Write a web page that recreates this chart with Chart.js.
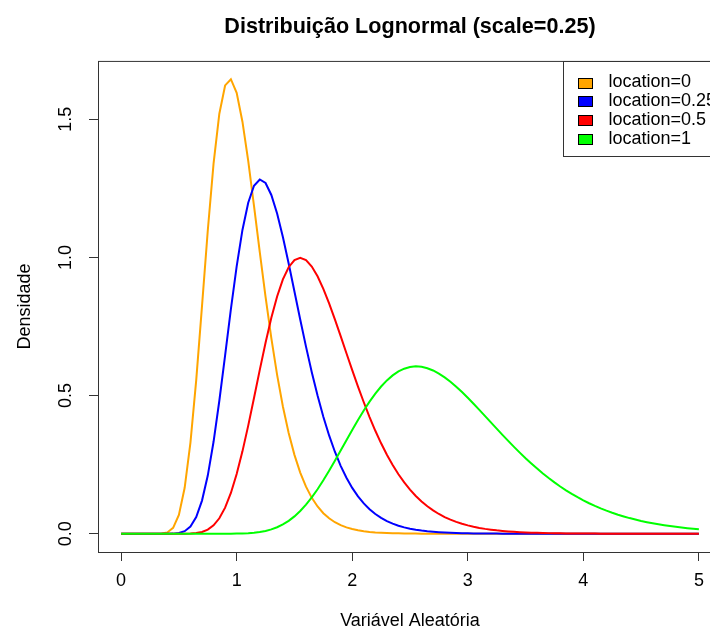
<!DOCTYPE html>
<html>
<head>
<meta charset="utf-8">
<title>Distribuição Lognormal</title>
<script src="https://cdn.jsdelivr.net/npm/chart.js@4/dist/chart.umd.min.js"></script>
<style>
    html, body { margin: 0; padding: 0; background: #fff; overflow: hidden; }
    #wrap { width: 710px; height: 627px; overflow: hidden; }
</style>
</head>
<body>
<div id="wrap"><canvas id="myChart" width="740" height="627"></canvas></div>
<script>
// densidades lognormais (sdlog = 0.25), avaliadas de 0 a 5 em passos de 0.05
const xValues = [
    0.00, 0.05, 0.10, 0.15, 0.20, 0.25, 0.30, 0.35, 0.40, 0.45,
    0.50, 0.55, 0.60, 0.65, 0.70, 0.75, 0.80, 0.85, 0.90, 0.95,
    1.00, 1.05, 1.10, 1.15, 1.20, 1.25, 1.30, 1.35, 1.40, 1.45,
    1.50, 1.55, 1.60, 1.65, 1.70, 1.75, 1.80, 1.85, 1.90, 1.95,
    2.00, 2.05, 2.10, 2.15, 2.20, 2.25, 2.30, 2.35, 2.40, 2.45,
    2.50, 2.55, 2.60, 2.65, 2.70, 2.75, 2.80, 2.85, 2.90, 2.95,
    3.00, 3.05, 3.10, 3.15, 3.20, 3.25, 3.30, 3.35, 3.40, 3.45,
    3.50, 3.55, 3.60, 3.65, 3.70, 3.75, 3.80, 3.85, 3.90, 3.95,
    4.00, 4.05, 4.10, 4.15, 4.20, 4.25, 4.30, 4.35, 4.40, 4.45,
    4.50, 4.55, 4.60, 4.65, 4.70, 4.75, 4.80, 4.85, 4.90, 4.95,
    5.00
];

const location0 = [
    0, 0, 0, 0, 0, 0, 0, 0.0007, 0.0048, 0.0216,
    0.0683, 0.1664, 0.3298, 0.5562, 0.8238, 1.0973, 1.3395, 1.5199, 1.6223, 1.6448,
    1.5958, 1.4911, 1.3490, 1.1868, 1.0193, 0.8573, 0.7076, 0.5751, 0.4607, 0.3646,
    0.2855, 0.2214, 0.1704, 0.1300, 0.0987, 0.0745, 0.0559, 0.0418, 0.0311, 0.0231,
    0.0171, 0.0126, 0.0093, 0.0068, 0.0050, 0.0037, 0.0027, 0.0020, 0.0014, 0.0011,
    0.0008, 0.0006, 0.0004, 0.0003, 0.0002, 0.0001, 0.0001, 0, 0, 0,
    0, 0, 0, 0, 0, 0, 0, 0, 0, 0,
    0, 0, 0, 0, 0, 0, 0, 0, 0, 0,
    0, 0, 0, 0, 0, 0, 0, 0, 0, 0,
    0, 0, 0, 0, 0, 0, 0, 0, 0, 0,
    0
];

const location025 = [
    0, 0, 0, 0, 0, 0, 0, 0, 0.0001, 0.0005,
    0.0026, 0.0092, 0.0259, 0.0602, 0.1200, 0.2106, 0.3328, 0.4813, 0.6455, 0.8125,
    0.9679, 1.0993, 1.1979, 1.2592, 1.2819, 1.2693, 1.2260, 1.1586, 1.0736, 0.9778,
    0.8767, 0.7752, 0.6772, 0.5847, 0.5000, 0.4236, 0.3558, 0.2968, 0.2458, 0.2025,
    0.1659, 0.1352, 0.1097, 0.0885, 0.0713, 0.0572, 0.0458, 0.0365, 0.0291, 0.0231,
    0.0183, 0.0145, 0.0114, 0.0090, 0.0071, 0.0056, 0.0044, 0.0035, 0.0027, 0.0021,
    0.0017, 0.0013, 0.0010, 0.0008, 0.0006, 0.0005, 0.0004, 0.0003, 0.0002, 0.0002,
    0.0001, 0.0001, 0, 0, 0, 0, 0, 0, 0, 0,
    0, 0, 0, 0, 0, 0, 0, 0, 0, 0,
    0, 0, 0, 0, 0, 0, 0, 0, 0, 0,
    0
];

const location05 = [
    0, 0, 0, 0, 0, 0, 0, 0, 0, 0,
    0, 0.0002, 0.0007, 0.0024, 0.0064, 0.0149, 0.0304, 0.0561, 0.0945, 0.1477,
    0.2160, 0.2982, 0.3914, 0.4915, 0.5931, 0.6913, 0.7814, 0.8586, 0.9204, 0.9645,
    0.9905, 0.9986, 0.9902, 0.9671, 0.9317, 0.8863, 0.8335, 0.7757, 0.7149, 0.6533,
    0.5921, 0.5326, 0.4758, 0.4223, 0.3727, 0.3273, 0.2859, 0.2486, 0.2152, 0.1857,
    0.1596, 0.1367, 0.1167, 0.0993, 0.0844, 0.0715, 0.0604, 0.0510, 0.0429, 0.0361,
    0.0303, 0.0254, 0.0212, 0.0177, 0.0148, 0.0123, 0.0103, 0.0085, 0.0071, 0.0059,
    0.0049, 0.0041, 0.0034, 0.0028, 0.0023, 0.0019, 0.0016, 0.0013, 0.0011, 0.0009,
    0.0007, 0.0006, 0.0005, 0.0004, 0.0004, 0.0003, 0.0003, 0.0002, 0.0002, 0.0002,
    0.0001, 0.0001, 0.0001, 0.0001, 0.0001, 0, 0, 0, 0, 0,
    0
];

const location1 = [
    0, 0, 0, 0, 0, 0, 0, 0, 0, 0,
    0, 0, 0, 0, 0, 0, 0, 0, 0.0001, 0.0002,
    0.0005, 0.0011, 0.0021, 0.0037, 0.0063, 0.0102, 0.0158, 0.0235, 0.0337, 0.0467,
    0.0629, 0.0825, 0.1054, 0.1317, 0.1611, 0.1933, 0.2277, 0.2638, 0.3011, 0.3385,
    0.3756, 0.4117, 0.4460, 0.4781, 0.5071, 0.5328, 0.5549, 0.5731, 0.5874, 0.5974,
    0.6035, 0.6057, 0.6041, 0.5991, 0.5908, 0.5797, 0.5659, 0.5500, 0.5322, 0.5127,
    0.4921, 0.4706, 0.4484, 0.4258, 0.4030, 0.3803, 0.3580, 0.3359, 0.3144, 0.2936,
    0.2734, 0.2542, 0.2358, 0.2182, 0.2016, 0.1859, 0.1711, 0.1572, 0.1443, 0.1322,
    0.1209, 0.1105, 0.1008, 0.0918, 0.0836, 0.0760, 0.0690, 0.0626, 0.0567, 0.0514,
    0.0464, 0.0420, 0.0379, 0.0342, 0.0308, 0.0278, 0.0250, 0.0225, 0.0203, 0.0182,
    0.0164
];

const seriesLabels = ['location=0', 'location=0.25', 'location=0.5', 'location=1'];
const seriesColors = ['#FFA500', '#0000FF', '#FF0000', '#00FF00'];
const seriesValues = [location0, location025, location05, location1];

const xTicks = [0, 1, 2, 3, 4, 5];
const yTicks = [0, 0.5, 1, 1.5];

const FONT = "'Liberation Sans', Arial, sans-serif";
const AXIS_COLOR = '#333';

// moldura do painel (box) e legenda no canto superior direito
const boxPlugin = {
    id: 'plotBox',
    afterDraw(chart) {
        const { ctx, chartArea } = chart;
        ctx.save();
        ctx.strokeStyle = AXIS_COLOR;
        ctx.lineWidth = 1;
        ctx.strokeRect(chartArea.left + 0.5, chartArea.top + 0.5,
            chartArea.right - chartArea.left, chartArea.bottom - chartArea.top);
        ctx.restore();
    }
};

const legendPlugin = {
    id: 'rLegend',
    afterDraw(chart) {
        const { ctx, chartArea } = chart;
        const left = Math.round(chartArea.right - 159) + 0.5;
        const top = Math.round(chartArea.top) + 0.5;
        const rowH = 18.7;

        ctx.save();
        ctx.fillStyle = '#fff';
        ctx.fillRect(left, top, 160, 95);
        ctx.strokeStyle = AXIS_COLOR;
        ctx.lineWidth = 1;
        ctx.strokeRect(left, top, 160, 95);

        ctx.font = '18px ' + FONT;
        ctx.textBaseline = 'middle';
        ctx.textAlign = 'left';
        chart.data.datasets.forEach((ds, i) => {
            const y = top + 21 + i * rowH;
            const sy = Math.round(y - 5) + 0.5;
            ctx.fillStyle = ds.borderColor;
            ctx.fillRect(left + 15, sy, 14, 10);
            ctx.strokeStyle = '#000';
            ctx.strokeRect(left + 15, sy, 14, 10);
            ctx.fillStyle = '#000';
            ctx.fillText(ds.label, left + 45, y);
        });
        ctx.restore();
    }
};

const datasets = seriesLabels.map((label, i) => ({
    label: label,
    data: xValues.map((x, j) => ({ x: x, y: seriesValues[i][j] })),
    borderColor: seriesColors[i],
    backgroundColor: seriesColors[i],
    borderWidth: 2,
    pointRadius: 0,
    tension: 0,
    fill: false,
    // as curvas desenhadas por último ficam por cima
    order: seriesLabels.length - 1 - i,
}));

const config = {
    type: 'line',
    data: { datasets: datasets },
    options: {
        responsive: false,
        animation: false,
        layout: { padding: { left: 0, right: 18, top: 0, bottom: 0 } },
        plugins: {
            legend: { display: false },
            tooltip: { enabled: false },
            title: {
                display: true,
                text: 'Distribuição Lognormal (scale=0.25)',
                fullSize: false,
                color: '#000',
                font: { family: FONT, size: 21.6, weight: 'bold', lineHeight: 1.2 },
                padding: { top: 14, bottom: 21 },
            },
        },
        scales: {
            x: {
                type: 'linear',
                min: -0.2,
                max: 5.2,
                afterBuildTicks: (axis) => { axis.ticks = xTicks.map((v) => ({ value: v })); },
                afterFit: (axis) => { axis.height = 75; },
                grid: { drawOnChartArea: false, drawTicks: true, tickLength: 9, tickColor: AXIS_COLOR },
                border: { display: false },
                ticks: {
                    autoSkip: false,
                    maxRotation: 0,
                    padding: 9,
                    color: '#000',
                    font: { family: FONT, size: 18 },
                    callback: (v) => String(v),
                },
                title: {
                    display: true,
                    text: 'Variável Aleatória',
                    color: '#000',
                    font: { family: FONT, size: 18, lineHeight: 0.7 },
                    padding: { top: 0, bottom: 0 },
                },
            },
            y: {
                type: 'linear',
                min: -0.066,
                max: 1.711,
                afterBuildTicks: (axis) => { axis.ticks = yTicks.map((v) => ({ value: v })); },
                afterFit: (axis) => { axis.width = 98; },
                grid: { drawOnChartArea: false, drawTicks: true, tickLength: 9, tickColor: AXIS_COLOR },
                border: { display: false },
                ticks: {
                    autoSkip: false,
                    minRotation: 90,
                    maxRotation: 90,
                    crossAlign: 'center',
                    padding: 10,
                    color: '#000',
                    font: { family: FONT, size: 18 },
                    callback: (v) => v.toFixed(1),
                },
                title: {
                    display: true,
                    text: 'Densidade',
                    color: '#000',
                    font: { family: FONT, size: 18, lineHeight: 1.2 },
                    padding: { top: 14, bottom: 0 },
                },
            },
        },
    },
    plugins: [boxPlugin, legendPlugin],
};

const ctx = document.getElementById('myChart').getContext('2d');
const myChart = new Chart(ctx, config);
</script>
</body>
</html>
